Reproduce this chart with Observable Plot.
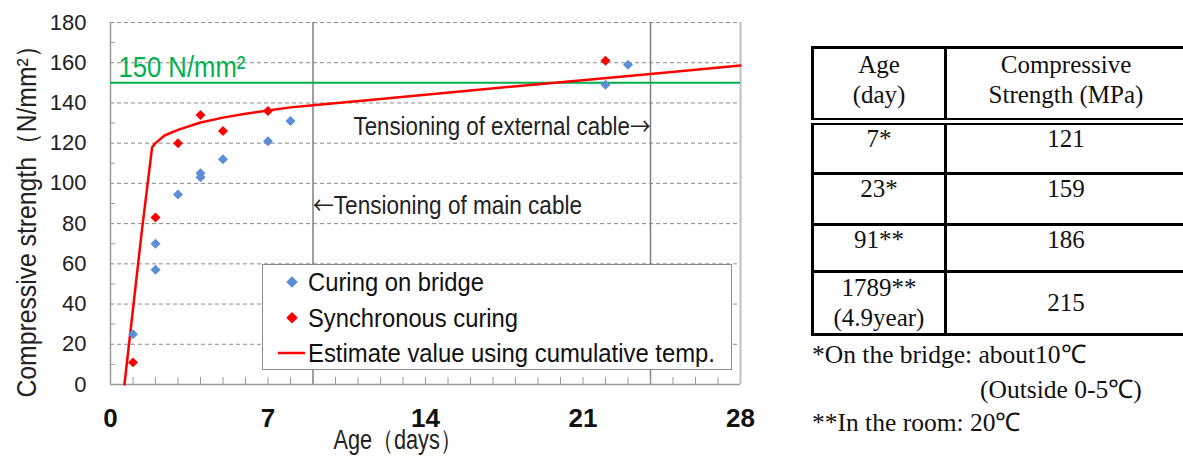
<!DOCTYPE html>
<html>
<head>
<meta charset="utf-8">
<script src="https://cdn.jsdelivr.net/npm/d3@7"></script>
<script src="https://cdn.jsdelivr.net/npm/@observablehq/plot@0.6"></script>
<style>
  html, body { margin: 0; padding: 0; background: #fff; }
  #wrap { position: relative; width: 1183px; height: 463px; overflow: hidden; }
  #chart { position: absolute; left: 0; top: 0; }
  #legend { position: absolute; left: 262px; top: 264px; width: 468px; height: 104px;
            border: 1.5px solid #8c8c8c; background: #fff; }
  #legend svg { position: absolute; left: -1.5px; top: -1.5px; overflow: visible; }
  table#tbl { position: absolute; left: 811px; top: 46px; border-collapse: collapse; table-layout: fixed; width: 470px;
              font-family: 'Liberation Serif', 'Times New Roman', serif; font-size: 25px; color: #111; }
  #tbl td { border: 3px solid #000; text-align: center; vertical-align: top; padding: 0; line-height: 24px; }
  #tbl tr.hd td { border-bottom: 7px double #000; height: 68px; padding-top: 1px; line-height: 30px; }
  #tbl .c2 { display: inline-block; width: 166px; text-align: center; }
  .notes { position: absolute; font-family: 'Liberation Serif', 'Times New Roman', serif; font-size: 25.5px;
           line-height: 30px; color: #111; white-space: nowrap; }
</style>
</head>
<body>
<div id="wrap">
  <div id="chart"></div>
  <div id="legend"></div>
  <table id="tbl"></table>
</div>
<script>
// ---------- data ----------
const bridgeAge      = [1, 2, 2, 3, 4, 4, 5, 7, 8, 22, 23];
const bridgeStrength = [25, 70, 57, 94.5, 105, 103, 112, 121, 131, 149, 159];
const syncAge        = [1, 2, 3, 4, 5, 7, 22];
const syncStrength   = [11, 83, 120, 134, 126, 136, 161];
const estAge         = [0.62, 1.4, 1.85, 2.0, 2.4, 3, 4, 5, 6, 7, 8, 9, 12, 16, 20, 24, 28];
const estStrength    = [0, 77, 118, 120, 123.8, 126.6, 130.3, 132.7, 134.6, 136.2, 137.8, 138.9, 142, 146.2, 150.3, 154.4, 158.6];
const targetStrength = 150;
const targetLabel    = "150 N/mm²";
const eventAges      = [9, 24];
const eventLabels    = ["Tensioning of main cable", "Tensioning of external cable"];
const eventLabelY    = [89, 128];
const xTicks         = [0, 7, 14, 21, 28];
const yTicks         = [0, 20, 40, 60, 80, 100, 120, 140, 160, 180];
const yMinorTicks    = [10, 30, 50, 70, 90, 110, 130, 150, 170];
const xMinorTicks    = d3.range(1, 28);
const seriesNames    = ["Curing on bridge", "Synchronous curing", "Estimate value using cumulative temp."];
const xLabel = "Age（days）";
const yLabel = "Compressive strength（N/mm²）";

const tableHeader = [["Age", "(day)"], ["Compressive", "Strength (MPa)"]];
const tableAges   = [["7*"], ["23*"], ["91**"], ["1789**", "(4.9year)"]];
const tableValues = ["121", "159", "186", "215"];
const tableNotes  = ["*On the bridge: about10℃", "(Outside 0-5℃)", "**In the room: 20℃"];

const BLUE = "#5b8ed6", RED = "#ff0000", GREEN = "#00b050";
const SANS = "'Liberation Sans', Arial, sans-serif";

const bridge = bridgeAge.map((a, i) => ({age: a, s: bridgeStrength[i]}));
const sync = syncAge.map((a, i) => ({age: a, s: syncStrength[i]}));
const est = estAge.map((a, i) => ({age: a, s: estStrength[i]}));

const chart = Plot.plot({
  width: 800, height: 463,
  marginLeft: 110, marginRight: 60, marginTop: 22, marginBottom: 79,
  style: {fontFamily: SANS, background: "transparent", overflow: "visible"},
  x: {domain: [0, 28]},
  y: {domain: [0, 180]},
  marks: [
    Plot.gridY(yTicks.slice(1), {stroke: "#8a8a8a", strokeOpacity: 1, strokeDasharray: "4,3", strokeWidth: 1}),
    Plot.ruleX(eventAges, {stroke: "#7f7f7f", strokeWidth: 1.5}),
    Plot.ruleX([28], {stroke: "#bfbfbf", strokeWidth: 2}),
    Plot.ruleX([0], {stroke: "#9a9a9a", strokeWidth: 1.5}),
    Plot.ruleY([0], {stroke: "#9a9a9a", strokeWidth: 1.5}),
    Plot.ruleX(xMinorTicks, {y1: 0, y2: 3.5, stroke: "#9a9a9a"}),
    Plot.ruleY(yMinorTicks, {x1: 0, x2: 0.22, stroke: "#9a9a9a"}),
    Plot.axisY({ticks: yTicks, tickSize: 0, tickPadding: 24, fontSize: 22, label: null, fill: "#222"}),
    Plot.axisX({ticks: xTicks, tickSize: 0, tickPadding: 24, fontSize: 26, fontWeight: "bold", label: null, fill: "#111"}),
    Plot.text([yLabel], {frameAnchor: "left", textAnchor: "middle", dx: -83, dy: 12, rotate: -90, fontSize: 28, fill: "#222"}),
    Plot.text([xLabel], {frameAnchor: "bottom", textAnchor: "middle", dx: -28, dy: 64, fontSize: 27, fill: "#222"}),
    Plot.ruleY([targetStrength], {stroke: GREEN, strokeWidth: 2}),
    Plot.text([targetLabel], {x: 0.35, y: 157.6, textAnchor: "start", fontSize: 30, fill: GREEN}),
    Plot.text([eventLabels[0]], {x: eventAges[0], y: eventLabelY[0], textAnchor: "start", fontSize: 26, fill: "#222"}),
    Plot.text([eventLabels[1]], {x: eventAges[1], y: eventLabelY[1], textAnchor: "end", fontSize: 26, fill: "#222"}),
    Plot.line(est, {x: "age", y: "s", stroke: RED, strokeWidth: 2.5}),
    Plot.dot(bridge, {x: "age", y: "s", symbol: "diamond2", r: 4.5, fill: BLUE, stroke: "none"}),
    Plot.dot(sync, {x: "age", y: "s", symbol: "diamond2", r: 4.5, fill: RED, stroke: "none"})
  ]
});
document.getElementById("chart").appendChild(chart);

// condensed look of the original lettering: fit texts to the widths seen in the picture
const svgSel = d3.select(chart);
function fit(content, len) {
  svgSel.selectAll("text").filter(function() { return this.textContent === content; })
    .attr("textLength", len).attr("lengthAdjust", "spacingAndGlyphs");
}
function addArrow(content, arrow, before, len) {
  svgSel.selectAll("text").filter(function() { return this.textContent === content; }).each(function() {
    const t = d3.select(this);
    t.text(null);
    const a = () => t.append("tspan").attr("font-family", "'Noto Sans CJK JP', 'DejaVu Sans', sans-serif").attr("font-size", 24).text(arrow);
    if (before) a();
    t.append("tspan").text(content);
    if (!before) a();
    t.attr("textLength", len).attr("lengthAdjust", "spacingAndGlyphs");
  });
}
fit(yLabel, 364);
fit(xLabel, 128);
fit(targetLabel, 127);
addArrow(eventLabels[0], "←", true, 269);
addArrow(eventLabels[1], "→", false, 297);

// ---------- legend ----------
const lg = d3.select("#legend").append("svg").attr("width", 471).attr("height", 107);
const rowBase = [27, 62.7, 98];
seriesNames.forEach((name, i) => {
  const cy = rowBase[i] - 9;
  if (i < 2) {
    lg.append("path").attr("d", d3.symbol(d3.symbolDiamond2, 85)()).attr("transform", `translate(30,${cy})`)
      .attr("fill", i === 0 ? BLUE : RED);
  } else {
    lg.append("line").attr("x1", 16).attr("x2", 43).attr("y1", cy).attr("y2", cy).attr("stroke", RED).attr("stroke-width", 2.5);
  }
  lg.append("text").attr("x", 46).attr("y", rowBase[i]).attr("font-family", SANS).attr("font-size", 26.5)
    .attr("fill", "#111").attr("textLength", [176, 210, 407][i]).attr("lengthAdjust", "spacingAndGlyphs").text(name);
});

// ---------- table ----------
const tbl = d3.select("#tbl");
const hd = tbl.append("tr").attr("class", "hd");
hd.append("td").style("width", "130px").html(tableHeader[0].join("<br>"));
hd.append("td").style("width", "340px").style("text-align", "left").style("padding-left", "36px")
  .html(tableHeader[1].map(s => `<span class="c2">${s}</span>`).join("<br>"));
const rowH = [45, 46, 42, 58];
tableAges.forEach((a, i) => {
  const tr = tbl.append("tr");
  const pad = i === 3 ? 0 : 2;
  tr.append("td").style("height", rowH[i] + "px").style("padding-top", pad + "px")
    .style("line-height", i === 3 ? "30px" : "24px").html(a.join("<br>"));
  tr.append("td").style("vertical-align", i === 3 ? "middle" : "top").style("padding-top", pad + "px")
    .style("text-align", "left").style("padding-left", "36px")
    .html(`<span class="c2">${tableValues[i]}</span>`);
});
const notePos = [[812, 340], [980, 375], [812, 408]];
tableNotes.forEach((t, i) => {
  const d = document.createElement("div");
  d.className = "notes";
  d.style.left = notePos[i][0] + "px";
  d.style.top = notePos[i][1] + "px";
  d.textContent = t;
  document.getElementById("wrap").appendChild(d);
});
</script>
</body>
</html>
